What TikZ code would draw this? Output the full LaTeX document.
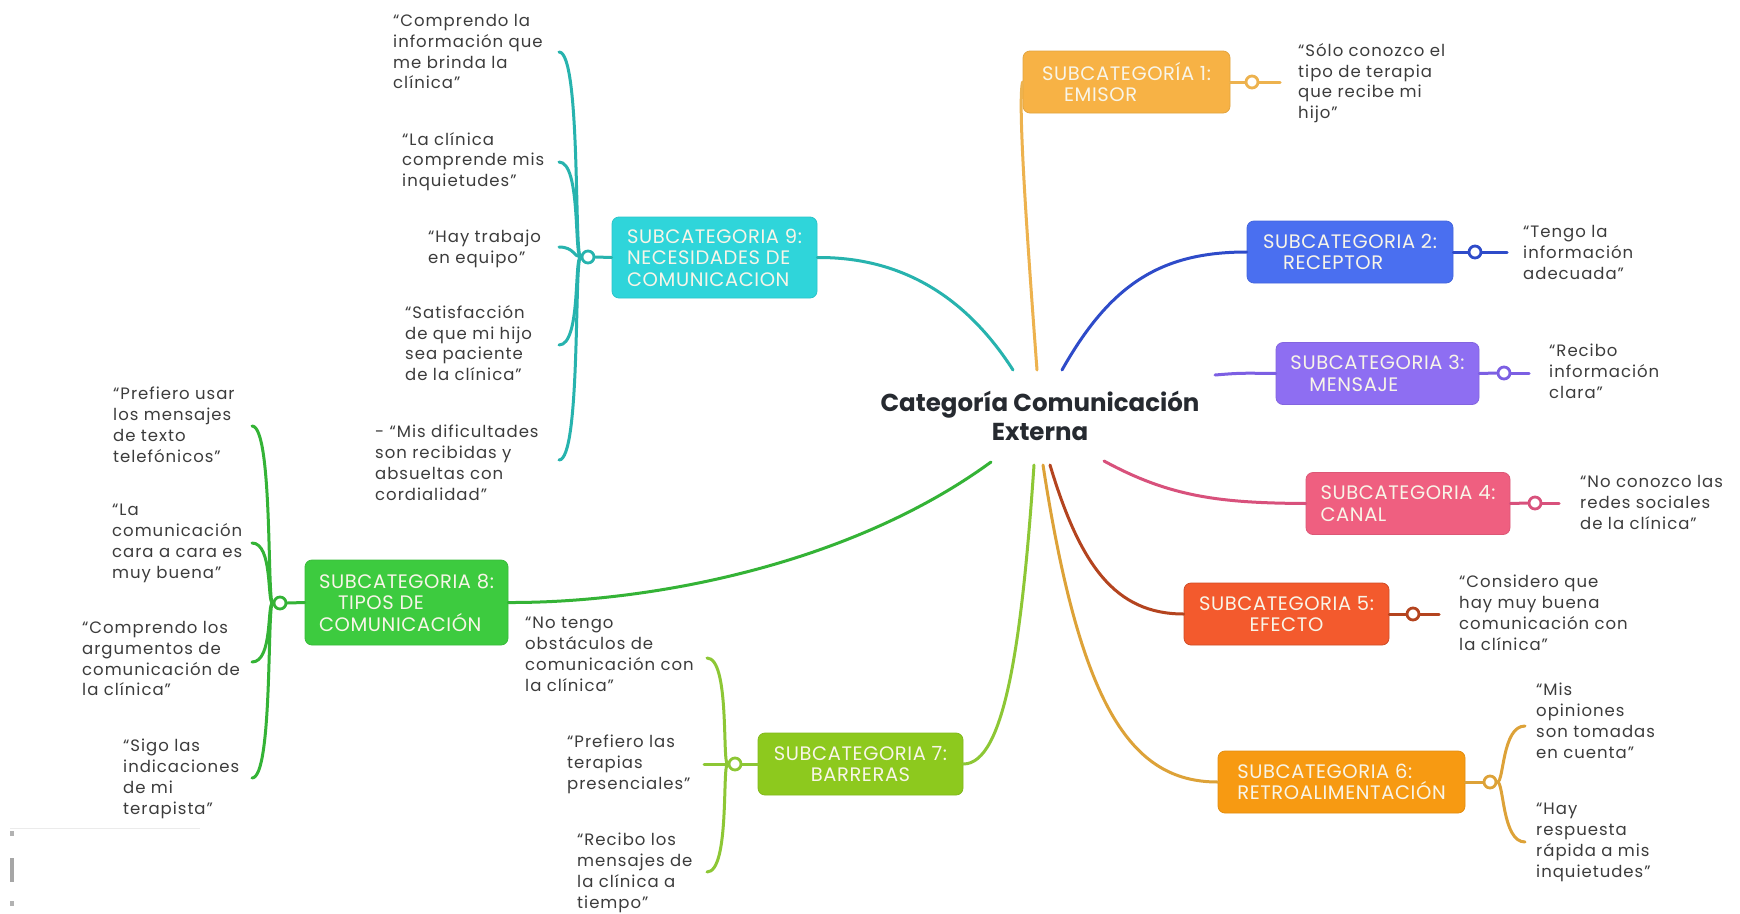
\documentclass[tikz,border=0pt]{standalone}
\usepackage{fontspec}
\setmainfont{Poppins}
\newfontfamily\qff[LetterSpace=6]{Poppins}
\newfontfamily\sff[LetterSpace=3]{Poppins}
\definecolor{c9box}{HTML}{2FD5DA}\definecolor{c9line}{HTML}{27B3AE}
\definecolor{c1box}{HTML}{F7B245}\definecolor{c1line}{HTML}{EDB24E}
\definecolor{c2box}{HTML}{4A6FF0}\definecolor{c2line}{HTML}{2E4BC9}
\definecolor{c3box}{HTML}{8E6EF2}\definecolor{c3line}{HTML}{7C5FE3}
\definecolor{c4box}{HTML}{EF5F80}\definecolor{c4line}{HTML}{D8517C}
\definecolor{c5box}{HTML}{F35A2D}\definecolor{c5line}{HTML}{B4441F}
\definecolor{c6box}{HTML}{F79A12}\definecolor{c6line}{HTML}{DDA238}
\definecolor{c7box}{HTML}{8DC91E}\definecolor{c7line}{HTML}{8DC735}
\definecolor{c8box}{HTML}{3DCB3F}\definecolor{c8line}{HTML}{34B336}
\definecolor{boxtext}{HTML}{F8F5E8}
\definecolor{qtext}{HTML}{3C3C3C}
\definecolor{ttext}{HTML}{262A30}
\newcommand{\subfont}{\sff\fontsize{19.5}{21.5}\selectfont}
\newcommand{\qfont}{\qff\fontsize{16.5}{20.8}\selectfont}
\newcommand{\tfont}{\fontsize{24.5}{29}\selectfont\bfseries}
\begin{document}
\begin{tikzpicture}[x=1pt,y=-1pt,
  sub/.style={rounded corners=7pt, minimum height=62pt, inner xsep=0pt, inner ysep=0pt,
     text=boxtext, font=\subfont, align=left, line width=0.8pt},
  quote/.style={anchor=north west, inner sep=0pt, align=left, font=\qfont, text=qtext},
  dot/.style={circle, draw, line width=2.8pt, fill=white, minimum size=12pt, inner sep=0pt},
  link/.style={line width=3pt, line cap=round}]
\useasboundingbox (0,0) rectangle (1740,913);
\fill[white] (0,0) rectangle (1740,913);
% faint screenshot artefacts
\draw[black!8, line width=1pt] (10,828) -- (200,828);
\fill[black!35] (10,858) rectangle (14,882);
\fill[black!30] (10,831) rectangle (14,836);
\fill[black!30] (10,901) rectangle (14,906);

% centre
\node[font=\tfont, align=center, text=ttext, inner sep=0pt] (cat) at (1040,416) {Categoría Comunicación\\Externa};
\coordinate (t9) at (1013,370);
\coordinate (t1) at (1037,370);
\coordinate (t2) at (1062,370);
\coordinate (t3) at (1215,375);
\coordinate (t4) at (1104,461);
\coordinate (t5) at (1050,465);
\coordinate (t6) at (1043,465);
\coordinate (t7) at (1034,465);
\coordinate (t8) at (991,462);

% boxes
\node[sub, fill=c1box, draw=c1box!92!black, minimum width=207pt] (b1) at (1126.5,82) {SUBCATEGORÍA 1:\\\hspace*{22pt}EMISOR};
\node[sub, fill=c2box, draw=c2box!92!black, minimum width=206pt] (b2) at (1350,252) {SUBCATEGORIA 2:\\\hspace*{20pt}RECEPTOR};
\node[sub, fill=c3box, draw=c3box!92!black, minimum width=203pt] (b3) at (1377.5,373.5) {SUBCATEGORIA 3:\\\hspace*{19pt}MENSAJE};
\node[sub, fill=c4box, draw=c4box!92!black, minimum width=204pt] (b4) at (1408,503.5) {SUBCATEGORIA 4:\\CANAL};
\node[sub, fill=c5box, draw=c5box!85!black, minimum width=205pt, align=center] (b5) at (1286.5,614) {SUBCATEGORIA 5:\\EFECTO};
\node[sub, fill=c6box, draw=c6box!92!black, minimum width=247pt] (b6) at (1341.5,782) {SUBCATEGORIA 6:\\RETROALIMENTACIÓN};
\node[sub, fill=c7box, draw=c7box!92!black, minimum width=205pt, align=center] (b7) at (860.5,764) {SUBCATEGORIA 7:\\BARRERAS};
\node[sub, fill=c8box, draw=c8box!92!black, minimum width=203pt, minimum height=85pt] (b8) at (406.5,602.5) {SUBCATEGORIA 8:\\\hspace*{19pt}TIPOS DE\\COMUNICACIÓN};
\node[sub, fill=c9box, draw=c9box!92!black, minimum width=205pt, minimum height=81pt] (b9) at (714.5,257.5) {SUBCATEGORIA 9:\\NECESIDADES DE\\COMUNICACION};

% centre connectors
\draw[link, c9line] (t9) .. controls (965,295) and (900,257) .. (b9.east);
\draw[link, c1line] (t1) .. controls (1025,210) and (1018,100) .. (b1.west);
\draw[link, c2line] (t2) .. controls (1110,285) and (1160,252) .. (b2.west);
\draw[link, c3line] (t3) .. controls (1240,373) .. (b3.west);
\draw[link, c4line] (t4) .. controls (1170,497) and (1220,503) .. (b4.west);
\draw[link, c5line] (t5) .. controls (1080,565) and (1115,614) .. (b5.west);
\draw[link, c6line] (t6) .. controls (1080,705) and (1130,782) .. (b6.west);
\draw[link, c7line] (t7) .. controls (1022,640) and (1005,764) .. (b7.east);
\draw[link, c8line] (t8) .. controls (850,565) and (650,603) .. (b8.east);

% single-child leaves
\coordinate (e1) at (1280,82);
\coordinate (e2) at (1507,252);
\coordinate (e3) at (1529,373);
\coordinate (e4) at (1559,503);
\coordinate (e5) at (1439,614);
\node[dot, draw=c1line] (d1) at (1252,82) {};
\node[dot, draw=c2line] (d2) at (1475,252) {};
\node[dot, draw=c3line] (d3) at (1504,373) {};
\node[dot, draw=c4line] (d4) at (1535,503) {};
\node[dot, draw=c5line] (d5) at (1413,614) {};
\draw[link, c1line] (b1.east) -- (d1.west); \draw[link, c1line] (d1.east) -- (e1);
\draw[link, c2line] (b2.east) -- (d2.west); \draw[link, c2line] (d2.east) -- (e2);
\draw[link, c3line] (b3.east) -- (d3.west); \draw[link, c3line] (d3.east) -- (e3);
\draw[link, c4line] (b4.east) -- (d4.west); \draw[link, c4line] (d4.east) -- (e4);
\draw[link, c5line] (b5.east) -- (d5.west); \draw[link, c5line] (d5.east) -- (e5);

\node[quote] (q1) at (1298,43) {“Sólo conozco el\\tipo de terapia\\que recibe mi\\hijo”};
\node[quote] (q2) at (1523,225) {“Tengo la\\información\\adecuada”};
\node[quote] (q3) at (1549,344) {“Recibo\\información\\clara”};
\node[quote] (q4) at (1580,475) {“No conozco las\\redes sociales\\de la clínica”};
\node[quote] (q5) at (1459,575) {“Considero que\\hay muy buena\\comunicación con\\la clínica”};

% subcategory 6
\node[dot, draw=c6line] (d6) at (1490,782) {};
\draw[link, c6line] (b6.east) -- (d6.west);
\coordinate (e6a) at (1525,726);
\coordinate (e6b) at (1525,842);
\draw[link, c6line] (d6.east) .. controls (1504,782) and (1502,726) .. (e6a);
\draw[link, c6line] (d6.east) .. controls (1504,782) and (1502,842) .. (e6b);
\node[quote] (q6a) at (1536,683) {“Mis\\opiniones\\son tomadas\\en cuenta”};
\node[quote] (q6b) at (1536,803) {“Hay\\respuesta\\rápida a mis\\inquietudes”};

% subcategory 7
\node[dot, draw=c7line] (d7) at (735,764) {};
\draw[link, c7line] (b7.west) -- (d7.east);
\coordinate (e7a) at (707,658);
\coordinate (e7b) at (704,764);
\coordinate (e7c) at (707,872);
\draw[link, c7line] (d7.west) .. controls (722,764) and (730,658) .. (e7a);
\draw[link, c7line] (d7.west) -- (e7b);
\draw[link, c7line] (d7.west) .. controls (722,764) and (730,872) .. (e7c);
\node[quote] (q7a) at (525,617) {“No tengo\\obstáculos de\\comunicación con\\la clínica”};
\node[quote] (q7b) at (567,735) {“Prefiero las\\terapias\\presenciales”};
\node[quote] (q7c) at (577,833) {“Recibo los\\mensajes de\\la clínica a\\tiempo”};

% subcategory 8
\node[dot, draw=c8line] (d8) at (280,603) {};
\draw[link, c8line] (b8.west) -- (d8.east);
\coordinate (e8a) at (252,426);
\coordinate (e8b) at (252,543);
\coordinate (e8c) at (252,662);
\coordinate (e8d) at (252,778);
\draw[link, c8line] (d8.west) .. controls (267,603) and (273,426) .. (e8a);
\draw[link, c8line] (d8.west) .. controls (267,603) and (273,543) .. (e8b);
\draw[link, c8line] (d8.west) .. controls (267,603) and (273,662) .. (e8c);
\draw[link, c8line] (d8.west) .. controls (267,603) and (273,778) .. (e8d);
\node[quote] (q8a) at (113,387) {“Prefiero usar\\los mensajes\\de texto\\telefónicos”};
\node[quote] (q8b) at (112,504) {“La\\comunicación\\cara a cara es\\muy buena”};
\node[quote] (q8c) at (82,621) {“Comprendo los\\argumentos de\\comunicación de\\la clínica”};
\node[quote] (q8d) at (123,739) {“Sigo las\\indicaciones\\de mi\\terapista”};

% subcategory 9
\node[dot, draw=c9line] (d9) at (588,257) {};
\draw[link, c9line] (b9.west) -- (d9.east);
\coordinate (e9a) at (559,52);
\coordinate (e9b) at (559,162);
\coordinate (e9c) at (559,247);
\coordinate (e9d) at (559,345);
\coordinate (e9e) at (559,460);
\draw[link, c9line] (d9.west) .. controls (574,257) and (581,52) .. (e9a);
\draw[link, c9line] (d9.west) .. controls (574,257) and (581,162) .. (e9b);
\draw[link, c9line] (d9.west) .. controls (574,257) and (574,247) .. (e9c);
\draw[link, c9line] (d9.west) .. controls (574,257) and (581,345) .. (e9d);
\draw[link, c9line] (d9.west) .. controls (574,257) and (581,460) .. (e9e);
\node[quote] (q9a) at (393,14) {“Comprendo la\\información que\\me brinda la\\clínica”};
\node[quote] (q9b) at (402,132) {“La clínica\\comprende mis\\inquietudes”};
\node[quote] (q9c) at (428,230) {“Hay trabajo\\en equipo”};
\node[quote] (q9d) at (405,305) {“Satisfacción\\de que mi hijo\\sea paciente\\de la clínica”};
\node[quote] (q9e) at (375,425) {- “Mis dificultades\\son recibidas y\\absueltas con\\cordialidad”};
\end{tikzpicture}
\end{document}
